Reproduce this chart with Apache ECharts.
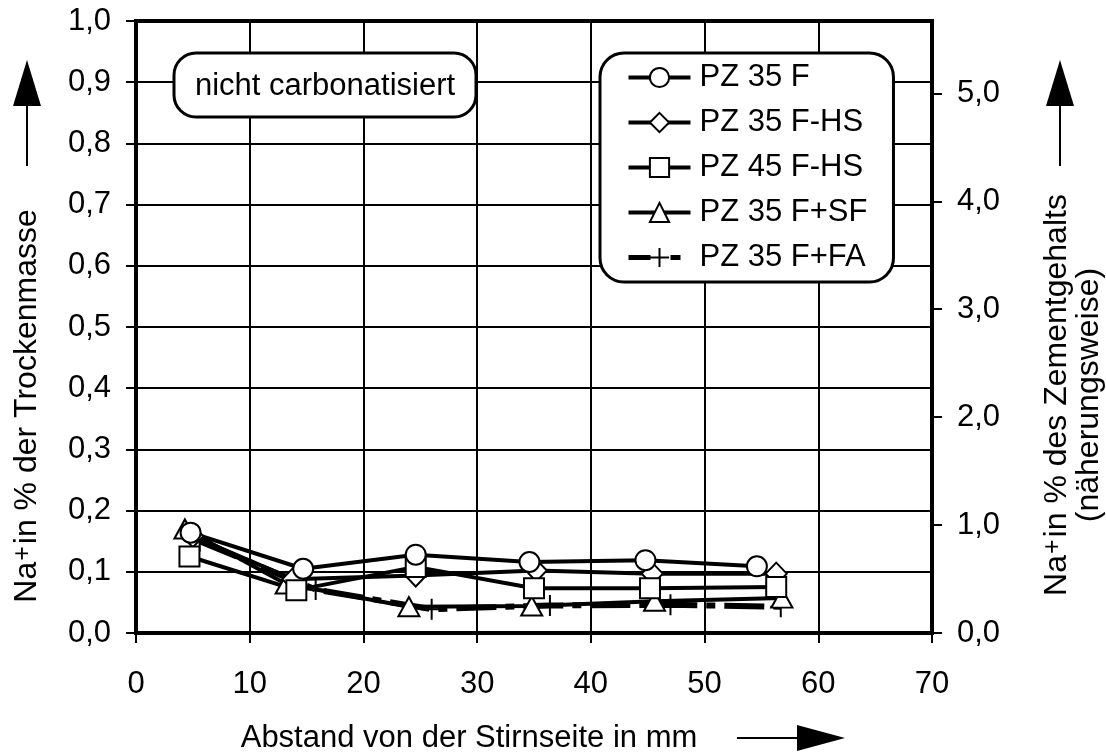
<!DOCTYPE html>
<html>
<head>
<meta charset="utf-8">
<title>Na+ nicht carbonatisiert</title>
<script src="https://cdn.jsdelivr.net/npm/echarts@6/dist/echarts.min.js"></script>
<style>
  html, body { margin: 0; padding: 0; background: #fff; }
  #main { width: 1106px; height: 752px; }
</style>
</head>
<body>
<div id="main"></div>
<script>
// Messwerte (Abstand in mm, Na+ in % der Trockenmasse)
var seriesNames = ['PZ 35 F', 'PZ 35 F-HS', 'PZ 45 F-HS', 'PZ 35 F+SF', 'PZ 35 F+FA'];

var xCircle   = [4.8, 14.7, 24.6, 34.6, 44.8, 54.6];
var yCircle   = [0.164, 0.105, 0.128, 0.116, 0.119, 0.109];
var xDiamond  = [5.0, 13.8, 24.6, 35.2, 45.4, 56.3];
var yDiamond  = [0.158, 0.088, 0.094, 0.102, 0.097, 0.097];
var xSquare   = [4.7, 14.1, 24.6, 35.0, 45.2, 56.3];
var ySquare   = [0.125, 0.070, 0.108, 0.073, 0.073, 0.075];
var xTriangle = [4.3, 13.2, 24.0, 34.8, 45.6, 56.8];
var yTriangle = [0.170, 0.080, 0.043, 0.044, 0.052, 0.057];
var xPlus     = [5.6, 15.8, 26.0, 36.4, 47.0, 56.7];
var yPlus     = [0.150, 0.071, 0.039, 0.045, 0.046, 0.043];

var yRightTicks = [0, 1, 2, 3, 4, 5];

var FONT = 'Liberation Sans, Arial, sans-serif';

function pairs(xs, ys) {
    var out = [];
    for (var i = 0; i < xs.length; i++) out.push([xs[i], ys[i]]);
    return out;
}
function komma(v) {
    return v.toFixed(1).replace('.', ',');
}

var markerStyle = { color: '#fff', borderColor: '#000', borderWidth: 2 };
var plusDash = [40, 9, 9, 9];

function lineSeries(name, xs, ys, symbol, size, lineStyle) {
    return {
        name: name,
        type: 'line',
        data: pairs(xs, ys),
        symbol: symbol,
        symbolSize: size,
        showAllSymbol: true,
        lineStyle: lineStyle,
        itemStyle: markerStyle,
        emphasis: { disabled: true },
        silent: true
    };
}

var legendData = seriesNames.map(function (n) {
    var last = n === 'PZ 35 F+FA';
    return {
        name: n,
        lineStyle: { color: '#000', width: last ? 5 : 4, type: last ? [22, 20, 10, 20] : 'solid' }
    };
});

var myChart = echarts.init(document.getElementById('main'));

var option = {
    animation: false,
    textStyle: { fontFamily: FONT, color: '#000' },
    grid: {
        left: 136, top: 21, width: 796, height: 612,
        show: true, borderColor: '#000', borderWidth: 4, backgroundColor: 'transparent'
    },
    legend: {
        data: legendData,
        orient: 'vertical',
        left: 600, top: 53,
        padding: [9, 26, 9, 26],
        itemWidth: 62, itemHeight: 24, itemGap: 14,
        backgroundColor: '#fff',
        borderColor: '#000', borderWidth: 3, borderRadius: 24,
        selectedMode: false,
        textStyle: { fontSize: 31, fontFamily: FONT, color: '#000', padding: [0, 0, 0, 4] }
    },
    xAxis: {
        type: 'value',
        min: 0, max: 70, interval: 10,
        axisLine: { lineStyle: { color: '#000', width: 4 } },
        axisTick: { length: 10, lineStyle: { color: '#000', width: 2 } },
        axisLabel: { fontSize: 31, fontFamily: FONT, color: '#000', margin: 36 },
        splitLine: { show: true, lineStyle: { color: '#000', width: 2 } }
    },
    yAxis: [{
        type: 'value',
        min: 0, max: 1, interval: 0.1,
        axisLine: { show: true, lineStyle: { color: '#000', width: 4 } },
        axisTick: { show: true, length: 10, lineStyle: { color: '#000', width: 2 } },
        axisLabel: { fontSize: 31, fontFamily: FONT, color: '#000', margin: 25, formatter: komma },
        splitLine: { show: true, lineStyle: { color: '#000', width: 2 } }
    }, {
        type: 'value',
        position: 'right',
        min: 0, max: 5.67, interval: 1,
        axisLine: { show: true, lineStyle: { color: '#000', width: 4 } },
        axisTick: { show: true, length: 10, customValues: yRightTicks, lineStyle: { color: '#000', width: 2 } },
        axisLabel: { fontSize: 31, fontFamily: FONT, color: '#000', margin: 25, customValues: yRightTicks,
            formatter: komma },
        splitLine: { show: false }
    }],
    series: [
        // Zeichenreihenfolge: + unten, Kreise oben
        lineSeries('PZ 35 F+FA', xPlus, yPlus, 'path://M5,0L5,10M0,5L10,5', 21,
            { color: '#000', width: 6, type: plusDash }),
        lineSeries('PZ 35 F+SF', xTriangle, yTriangle, 'triangle', [21, 19], { color: '#000', width: 4 }),
        lineSeries('PZ 35 F-HS', xDiamond, yDiamond, 'diamond', [21, 22], { color: '#000', width: 4 }),
        lineSeries('PZ 45 F-HS', xSquare, ySquare, 'rect', 20, { color: '#000', width: 4 }),
        lineSeries('PZ 35 F', xCircle, yCircle, 'circle', 20, { color: '#000', width: 4 })
    ],
    graphic: [
        // Textfeld "nicht carbonatisiert"
        {
            type: 'rect', z: 10,
            shape: { x: 174, y: 53, width: 302, height: 64, r: 22 },
            style: { fill: '#fff', stroke: '#000', lineWidth: 3 }
        },
        {
            type: 'text', z: 11, x: 325, y: 86,
            style: { text: 'nicht carbonatisiert', font: '31px ' + FONT, fill: '#000',
                align: 'center', verticalAlign: 'middle' }
        },
        // linke Achsenbeschriftung
        {
            type: 'text', z: 11, x: 27, y: 406, rotation: Math.PI / 2,
            style: {
                text: '{n|Na}{s|+}{n|in % der Trockenmasse}',
                align: 'center', verticalAlign: 'middle',
                rich: {
                    n: { fontSize: 32, fontFamily: FONT, fill: '#000' },
                    s: { fontSize: 25, fontFamily: FONT, fill: '#000', verticalAlign: 'top', padding: [0, 2, 0, 1] }
                }
            }
        },
        // rechte Achsenbeschriftung
        {
            type: 'text', z: 11, x: 1073, y: 395, rotation: Math.PI / 2,
            style: {
                text: '{n|Na}{s|+}{n|in % des Zementgehalts}\n{n|(näherungsweise)}',
                align: 'center', verticalAlign: 'middle',
                rich: {
                    n: { fontSize: 32, fontFamily: FONT, fill: '#000', align: 'center' },
                    s: { fontSize: 25, fontFamily: FONT, fill: '#000', verticalAlign: 'top', padding: [0, 2, 0, 1] }
                }
            }
        },
        // x-Achsenbeschriftung
        {
            type: 'text', z: 11, x: 469, y: 738,
            style: { text: 'Abstand von der Stirnseite in mm', font: '31px ' + FONT, fill: '#000',
                align: 'center', verticalAlign: 'middle' }
        },
        // Pfeile
        { type: 'line', shape: { x1: 27, y1: 104, x2: 27, y2: 166 }, style: { stroke: '#000', lineWidth: 2 } },
        { type: 'polygon', shape: { points: [[27, 60], [13, 106], [41, 106]] }, style: { fill: '#000' } },
        { type: 'line', shape: { x1: 1060, y1: 104, x2: 1060, y2: 166 }, style: { stroke: '#000', lineWidth: 2 } },
        { type: 'polygon', shape: { points: [[1060, 60], [1046, 106], [1074, 106]] }, style: { fill: '#000' } },
        { type: 'line', shape: { x1: 737, y1: 738, x2: 800, y2: 738 }, style: { stroke: '#000', lineWidth: 2 } },
        { type: 'polygon', shape: { points: [[845, 738], [797, 725], [797, 751]] }, style: { fill: '#000' } }
    ]
};

myChart.setOption(option);
</script>
</body>
</html>
